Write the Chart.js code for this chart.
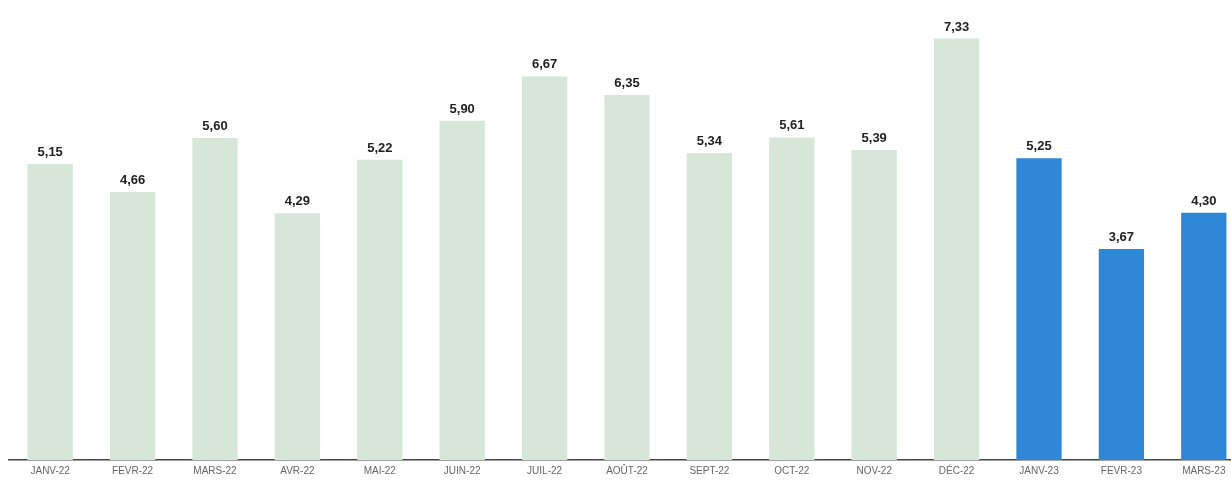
<!DOCTYPE html>
<html>
<head>
<meta charset="utf-8">
<script src="https://cdn.jsdelivr.net/npm/chart.js@4"></script>
<style>
  html, body { margin: 0; padding: 0; background: #fff; overflow: hidden; }
  #wrap { width: 1245px; height: 482px; }
</style>
</head>
<body>
<div id="wrap"><canvas id="barChart"></canvas></div>
<script>
const labels = ["JANV-22", "FEVR-22", "MARS-22", "AVR-22", "MAI-22", "JUIN-22", "JUIL-22", "AOÛT-22",
  "SEPT-22", "OCT-22", "NOV-22", "DÉC-22", "JANV-23", "FEVR-23", "MARS-23"];
const values = [5.15, 4.66, 5.60, 4.29, 5.22, 5.90, 6.67, 6.35, 5.34, 5.61, 5.39, 7.33, 5.25, 3.67, 4.30];
const yearOf = [22, 22, 22, 22, 22, 22, 22, 22, 22, 22, 22, 22, 23, 23, 23];

const GREEN = "#d6e7da";
const BLUE = "#2f87d8";

// étiquettes de valeur au-dessus des barres
const valueLabels = {
  id: "valueLabels",
  afterDatasetsDraw(chart) {
    const ctx = chart.ctx;
    const meta = chart.getDatasetMeta(0);
    ctx.save();
    ctx.font = "bold 13px 'Liberation Sans', Arial, sans-serif";
    ctx.fillStyle = "#222";
    ctx.textAlign = "center";
    ctx.textBaseline = "alphabetic";
    meta.data.forEach((bar, i) => {
      const txt = values[i].toFixed(2).replace(".", ",");
      ctx.fillText(txt, bar.x, bar.y - 8);
    });
    ctx.restore();
  },
};

const ctx = document.getElementById("barChart").getContext("2d");
new Chart(ctx, {
  type: "bar",
  data: {
    labels: labels,
    datasets: [{
      data: values,
      backgroundColor: yearOf.map((y) => (y === 23 ? BLUE : GREEN)),
      barPercentage: 0.55,
      categoryPercentage: 1,
    }],
  },
  options: {
    responsive: true,
    maintainAspectRatio: false,
    animation: false,
    layout: { padding: { left: 9, right: 0, top: 0, bottom: 0 } },
    plugins: { legend: { display: false }, tooltip: { enabled: false } },
    scales: {
      x: {
        grid: { display: false, drawTicks: false },
        border: { display: true, color: "#444", width: 1.5 },
        ticks: {
          color: "#666",
          font: { size: 10, family: "'Liberation Sans', Arial, sans-serif" },
          padding: 5,
          maxRotation: 0,
          autoSkip: false,
        },
      },
      y: {
        display: false,
        min: 0,
        max: 8,
      },
    },
  },
  plugins: [valueLabels],
});
</script>
</body>
</html>
